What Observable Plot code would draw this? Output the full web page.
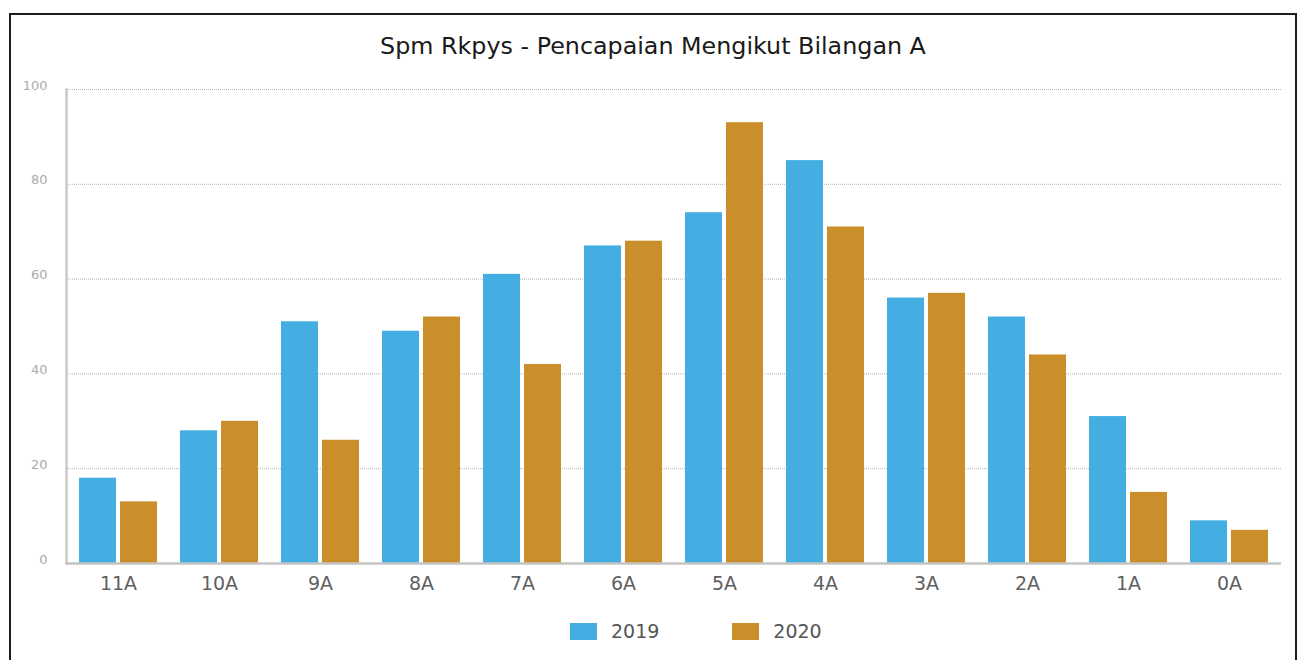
<!DOCTYPE html>
<html>
<head>
<meta charset="utf-8">
<script src="https://cdn.jsdelivr.net/npm/d3@7"></script>
<script src="https://cdn.jsdelivr.net/npm/@observablehq/plot@0.6"></script>
<style>
  html, body { margin: 0; padding: 0; width: 1300px; height: 660px; overflow: hidden; background: #fff; }
  #frame { position: absolute; left: 9px; top: 13px; width: 1288px; height: 700px; box-sizing: border-box; border: 2px solid #1e1e1e; }
  #title { position: absolute; left: 9px; width: 1288px; top: 31px; text-align: center; font-family: "DejaVu Sans", sans-serif; font-size: 23.8px; line-height: 30px; color: #1a1a1a; }
  #chart { position: absolute; left: 0; top: 0; }
  #legend { position: absolute; top: 620px; left: 570px; display: flex; align-items: center; font-family: "DejaVu Sans", sans-serif; font-size: 19px; color: #555; }
  .item { display: flex; align-items: center; }
  .sw { width: 27px; height: 17px; margin-right: 14px; }
</style>
</head>
<body>
<div id="frame"></div>
<div id="title">Spm Rkpys - Pencapaian Mengikut Bilangan A</div>
<div id="chart"></div>
<div id="legend"></div>
<script>
const categories = ["11A", "10A", "9A", "8A", "7A", "6A", "5A", "4A", "3A", "2A", "1A", "0A"];
const series = ["2019", "2020"];
const values2019 = [18, 28, 51, 49, 61, 67, 74, 85, 56, 52, 31, 9];
const values2020 = [13, 30, 26, 52, 42, 68, 93, 71, 57, 44, 15, 7];
const yTicks = [0, 20, 40, 60, 80, 100];
const colors = ["#44aee2", "#ca8f2b"];

const data2019 = categories.map((c, i) => ({cat: c, value: values2019[i]}));
const data2020 = categories.map((c, i) => ({cat: c, value: values2020[i]}));

const plot = Plot.plot({
  width: 1300,
  height: 600,
  marginLeft: 66,
  marginRight: 19,
  marginTop: 89,
  marginBottom: 37,
  style: {fontFamily: "DejaVu Sans, sans-serif", background: "transparent", overflow: "visible"},
  x: {domain: categories, paddingInner: 0.228, paddingOuter: 0.115, align: 0.5},
  y: {domain: [0, 100]},
  marks: [
    Plot.gridY(yTicks.filter(t => t > 0), {stroke: "#b5b5b5", strokeOpacity: 1, strokeDasharray: "1,1"}),
    Plot.barY(data2019, {x: "cat", y: "value", fill: colors[0], insetRight: 41, insetLeft: 0}),
    Plot.barY(data2020, {x: "cat", y: "value", fill: colors[1], insetLeft: 41, insetRight: 0}),
    Plot.frame({anchor: "left", stroke: "#c8c8c8", strokeWidth: 2.5}),
    Plot.ruleY([0], {stroke: "#c4c4c4", strokeWidth: 2.5}),
    Plot.axisY(yTicks, {tickSize: 0, tickPadding: 19, fontSize: 13, fill: "#ababab", dy: -4, label: null}),
    Plot.axisX({tickSize: 0, tickPadding: 13, fontSize: 19, fill: "#5f5f5f", label: null})
  ]
});
document.getElementById("chart").appendChild(plot);

const legend = document.getElementById("legend");
series.forEach((s, i) => {
  const item = document.createElement("div");
  item.className = "item";
  if (i > 0) item.style.marginLeft = "73px";
  const sw = document.createElement("div");
  sw.className = "sw";
  sw.style.background = colors[i];
  const label = document.createElement("span");
  label.textContent = s;
  item.appendChild(sw);
  item.appendChild(label);
  legend.appendChild(item);
});
</script>
</body>
</html>
